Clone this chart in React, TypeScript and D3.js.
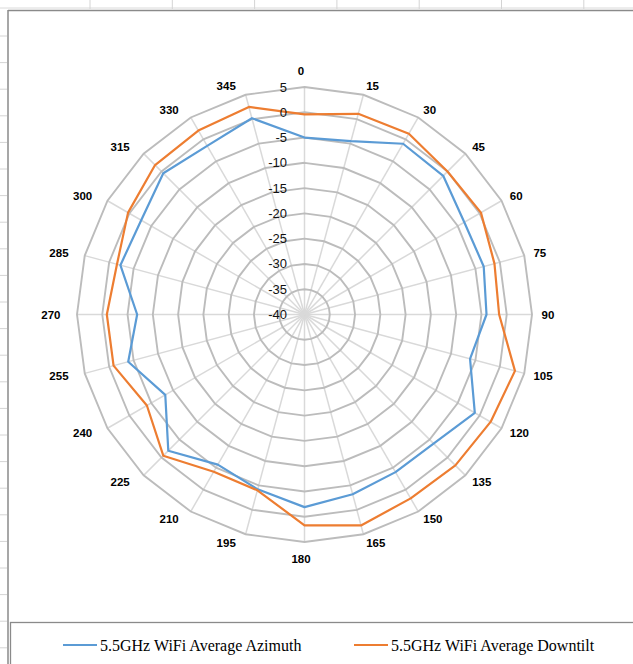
import React from 'react';
import * as d3 from 'd3';

const categories = ['0','15','30','45','60','75','90','105','120','135','150','165','180','195','210','225','240','255','270','285','300','315','330','345'];
const radialTicks = [-40, -35, -30, -25, -20, -15, -10, -5, 0, 5];
const azimuth = [-5.0, -4.5, -1.0, -1.2, -3.5, -3.3, -4.0, -6.1, -1.1, -3.9, -4.0, -3.2, -1.9, -4.2, -5.7, -1.9, -8.2, -3.9, -6.9, -2.3, -2.7, -0.5, -1.5, 0.2];
const downtilt = [-0.4, 1.1, 1.3, 0.0, 0.3, -1.1, -1.5, 3.1, 2.5, 2.2, 2.0, 3.2, 1.7, -4.0, -4.1, -0.5, -4.0, -0.9, -0.9, -1.6, 0.3, 1.8, 2.0, 2.5];
const seriesNames = ['5.5GHz WiFi Average Azimuth', '5.5GHz WiFi Average Downtilt'];
const seriesColors = ['#5b9bd5', '#ed7d31'];

export default function App() {
  const W = 633, H = 664;
  const cx = 304.5, cy = 314.5, R = 227.5;
  const r = d3.scaleLinear().domain([-40, 5]).range([0, R]);
  const ang = d3.scaleLinear().domain([0, categories.length]).range([0, 2 * Math.PI]);
  const pt = (i: number, v: number): [number, number] => {
    const a = ang(i);
    return [cx + r(v) * Math.sin(a), cy - r(v) * Math.cos(a)];
  };
  const closed = d3.line<[number, number]>().curve(d3.curveLinearClosed);

  const rings = radialTicks.filter(t => t > -40).map(t => closed(categories.map((_, i) => pt(i, t))) as string);
  const series = [azimuth, downtilt];

  const colLines = d3.range(90, W, 82.3);
  const rowLines = d3.range(36, H, 26.6);

  const lcx = cx - 3.5;
  const labelR = R + 9;

  return (
    <div style={{ position: 'absolute', left: 0, top: 0 }}>
      <svg width={W} height={H} style={{ display: 'block', background: '#fff' }}>
        <line x1={0} x2={W} y1={8} y2={8} stroke="#dadada" strokeWidth={1} />
        {colLines.map((x, i) => (
          <line key={'c' + i} x1={x} x2={x} y1={0} y2={9} stroke="#d4d4d4" strokeWidth={1} />
        ))}
        {rowLines.map((y, i) => (
          <line key={'r' + i} x1={0} x2={7} y1={y} y2={y} stroke="#d4d4d4" strokeWidth={1} />
        ))}
        <line x1={8} x2={W} y1={10.5} y2={10.5} stroke="#8a8a8a" strokeWidth={1.5} />
        <line x1={8} x2={8} y1={10} y2={H} stroke="#8a8a8a" strokeWidth={1.5} />

        {categories.map((_, i) => {
          const [x, y] = pt(i, 5);
          return <line key={'s' + i} x1={cx} y1={cy} x2={x} y2={y} stroke="#d9d9d9" strokeWidth={1.5} />;
        })}
        {rings.map((d, i) => (
          <path key={'g' + i} d={d} fill="none" stroke="#bcbcbc" strokeWidth={1.9} />
        ))}

        {series.map((vals, s) => (
          <path key={'p' + s} d={closed(vals.map((v, i) => pt(i, v))) as string}
            fill="none" stroke={seriesColors[s]} strokeWidth={2.2} strokeLinejoin="round" />
        ))}

        {radialTicks.map(t => (
          <text key={'t' + t} x={cx - 17.5} y={cy - r(t)} textAnchor="end" dominantBaseline="central"
            fontFamily="'Liberation Sans', Arial, sans-serif" fontSize={13} fill="#111">{t}</text>
        ))}

        {categories.map((c, i) => {
          const a = ang(i);
          const s = Math.sin(a), co = Math.cos(a);
          let x = lcx + labelR * s;
          let y = cy - labelR * co;
          let anchor: 'start' | 'end' | 'middle' = 'middle';
          if (s > 0.1) { anchor = 'start'; x += 4; }
          else if (s < -0.1) { anchor = 'end'; x -= 4; }
          else { y -= co * 7.5; }
          return (
            <text key={'l' + i} x={x} y={y} textAnchor={anchor} dominantBaseline="central"
              fontFamily="'Liberation Sans', Arial, sans-serif" fontSize={11.5} fontWeight="bold" fill="#000">{c}</text>
          );
        })}

        <rect x={10.5} y={622.5} width={W} height={60} fill="#fff" stroke="#8a8a8a" strokeWidth={1.3} />
        {seriesNames.map((n, i) => {
          const x0 = i === 0 ? 63 : 354;
          return (
            <g key={'lg' + i}>
              <line x1={x0} x2={x0 + 34} y1={645} y2={645} stroke={seriesColors[i]} strokeWidth={2.2} />
              <text x={x0 + 37} y={645} dominantBaseline="central"
                fontFamily="'Liberation Serif', 'Times New Roman', serif" fontSize={16} fill="#000">{n}</text>
            </g>
          );
        })}
      </svg>
    </div>
  );
}
